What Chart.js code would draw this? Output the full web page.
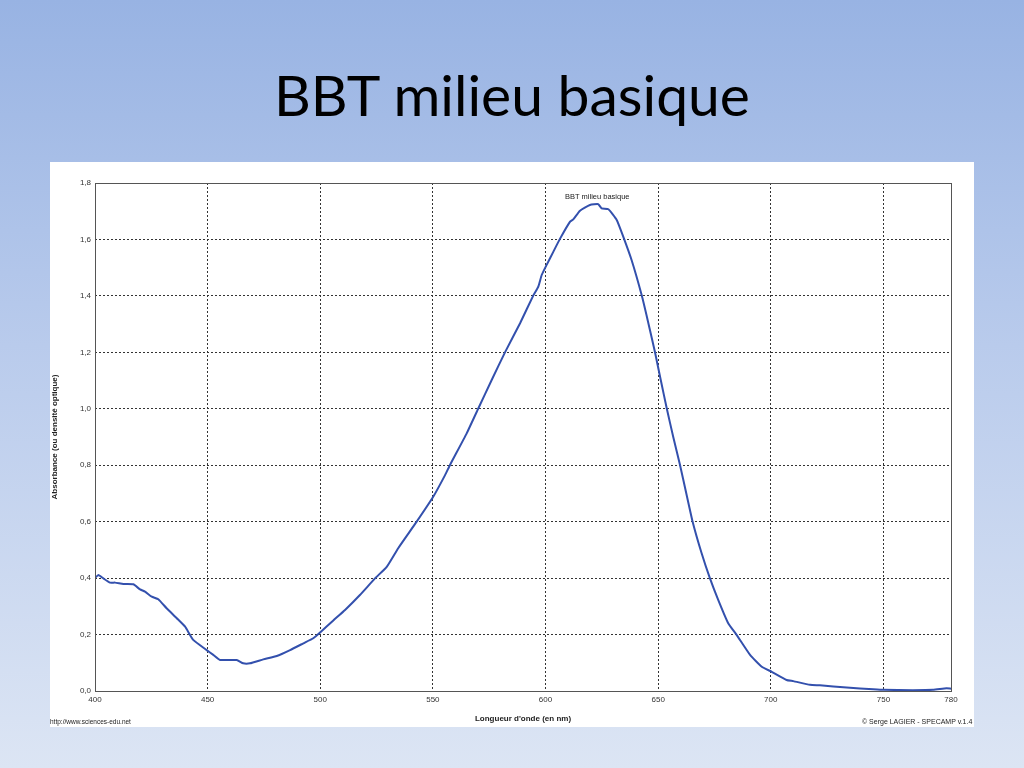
<!DOCTYPE html>
<html>
<head>
<meta charset="utf-8">
<script src="https://cdn.jsdelivr.net/npm/chart.js@4.4.0/dist/chart.umd.min.js"></script>
<style>
  html, body { margin: 0; padding: 0; }
  body {
    width: 1024px; height: 768px; overflow: hidden; position: relative;
    background: linear-gradient(to bottom, #98b3e3 0%, #b9cbec 45%, #dce5f4 100%);
    font-family: "Liberation Sans", Arial, sans-serif;
  }
  #title {
    position: absolute; left: 0; top: 59px; width: 1024px; text-align: center;
    font-family: Lato, "Open Sans", sans-serif; font-size: 57px; color: #000; line-height: 70px;
  }
  #panel {
    position: absolute; left: 50px; top: 162px; width: 924px; height: 565px; background: #fff;
  }
  #panel canvas { position: absolute; left: 0; top: 0; }
  .foot { position: absolute; top: 718px; font-size: 6.5px; color: #222; white-space: nowrap; }
</style>
</head>
<body>
<div id="title">BBT milieu basique</div>
<div id="panel"><canvas id="c" width="924" height="565"></canvas></div>
<div class="foot" style="left:50px;">http://www.sciences-edu.net</div>
<div class="foot" style="left:862px; font-size:7px;">© Serge LAGIER - SPECAMP v.1.4</div>
<script>
const seriesLabel = "BBT milieu basique";
const xTitle = "Longueur d'onde (en nm)";
const yTitle = "Absorbance (ou densité optique)";
const xTickValues = [400, 450, 500, 550, 600, 650, 700, 750, 780];
const yTickValues = [0, 0.2, 0.4, 0.6, 0.8, 1.0, 1.2, 1.4, 1.6, 1.8];

const wavelengths = [400, 401.5, 403.7, 406.7, 408.9, 412.6, 417, 420, 422.2, 425.2, 428.1, 431.8, 436.3, 440, 443.6,
  449.6, 452.5, 455.5, 462.9, 465.8, 468.8, 474.7, 480.7, 486.6, 492.5, 496.9, 500.3, 505.8, 511, 517.6,
  524.3, 529.5, 534.6, 542.8, 550.2, 555.4, 557.6, 565, 570.2, 576.1, 582, 588.7, 594.6, 596.8, 598.3,
  600.5, 603.5, 606.4, 610.9, 612.3, 615.3, 619.7, 623.4, 624.9, 627.9, 631.6, 634.5, 638.2, 642.7, 645.4,
  648.6, 651.2, 653.8, 656.7, 659.7, 662.5, 665.3, 669.3, 673, 676.7, 681.1, 684.9, 690.8, 696, 700.4,
  707, 710, 717.4, 721.8, 733.7, 745.5, 750, 763, 772, 778, 780];
const absorbance = [0.400, 0.411, 0.399, 0.384, 0.384, 0.379, 0.378, 0.360, 0.352, 0.334, 0.325, 0.293, 0.258, 0.228, 0.181,
  0.145, 0.128, 0.110, 0.110, 0.098, 0.098, 0.112, 0.124, 0.145, 0.169, 0.187, 0.210, 0.250, 0.287, 0.340,
  0.399, 0.440, 0.506, 0.600, 0.689, 0.765, 0.801, 0.913, 1.002, 1.102, 1.200, 1.303, 1.402, 1.433, 1.474,
  1.510, 1.557, 1.602, 1.663, 1.671, 1.702, 1.722, 1.725, 1.710, 1.707, 1.669, 1.610, 1.527, 1.402, 1.312,
  1.200, 1.100, 1.002, 0.900, 0.801, 0.700, 0.600, 0.488, 0.399, 0.322, 0.240, 0.198, 0.128, 0.086, 0.068,
  0.039, 0.035, 0.022, 0.020, 0.012, 0.006, 0.004, 0.003, 0.004, 0.010, 0.008];

const points = wavelengths.map((w, i) => ({ x: w, y: absorbance[i] }));

const framePlugin = {
  id: 'frame',
  afterDatasetsDraw(chart) {
    const { ctx, chartArea: a } = chart;
    ctx.save();
    ctx.strokeStyle = '#555';
    ctx.lineWidth = 1;
    ctx.setLineDash([]);
    ctx.strokeRect(Math.round(a.left) + 0.5, Math.round(a.top) + 0.5,
      Math.round(a.right - a.left), Math.round(a.bottom - a.top));
    // series label above the peak
    let maxI = 0;
    absorbance.forEach((v, i) => { if (v > absorbance[maxI]) maxI = i; });
    const px = chart.scales.x.getPixelForValue(wavelengths[maxI]);
    const py = chart.scales.y.getPixelForValue(absorbance[maxI]);
    ctx.fillStyle = '#222';
    ctx.font = '7.5px "Liberation Sans", Arial, sans-serif';
    ctx.textAlign = 'center';
    ctx.textBaseline = 'bottom';
    ctx.fillText(seriesLabel, px - 1, py - 3);
    ctx.restore();
  }
};

new Chart(document.getElementById('c'), {
  type: 'line',
  data: {
    datasets: [{
      label: seriesLabel,
      data: points,
      borderColor: '#3350ad',
      borderWidth: 2,
      pointRadius: 0,
      tension: 0.15,
      fill: false
    }]
  },
  options: {
    responsive: false,
    animation: false,
    layout: { padding: { left: 0, right: 23, top: 21, bottom: 0 } },
    plugins: { legend: { display: false }, tooltip: { enabled: false } },
    scales: {
      x: {
        type: 'linear', min: 400, max: 780,
        afterBuildTicks(scale) { scale.ticks = xTickValues.map(v => ({ value: v })); },
        afterFit(scale) { scale.height = 36; },
        grid: { color: '#333', lineWidth: 1, drawTicks: false, tickLength: 0 },
        border: { display: false, dash: [2, 2] },
        ticks: { color: '#333', font: { family: '"Liberation Sans", Arial, sans-serif', size: 8 }, padding: 4, maxRotation: 0, autoSkip: false },
        title: { display: true, text: xTitle, color: '#222', font: { family: '"Liberation Sans", Arial, sans-serif', size: 8, weight: 'bold' }, padding: { top: 0, bottom: 3 } }
      },
      y: {
        min: 0, max: 1.8,
        afterBuildTicks(scale) { scale.ticks = yTickValues.map(v => ({ value: v })); },
        afterFit(scale) { scale.width = 45; },
        grid: { color: '#333', lineWidth: 1, drawTicks: false, tickLength: 0 },
        border: { display: false, dash: [2, 2] },
        ticks: {
          color: '#333', font: { family: '"Liberation Sans", Arial, sans-serif', size: 8 }, padding: 4,
          callback: v => v.toFixed(1).replace('.', ',')
        },
        title: { display: true, text: yTitle, color: '#222', font: { family: '"Liberation Sans", Arial, sans-serif', size: 8, weight: 'bold' }, padding: { top: 0, bottom: 0 } }
      }
    }
  },
  plugins: [framePlugin]
});
</script>
</body>
</html>
